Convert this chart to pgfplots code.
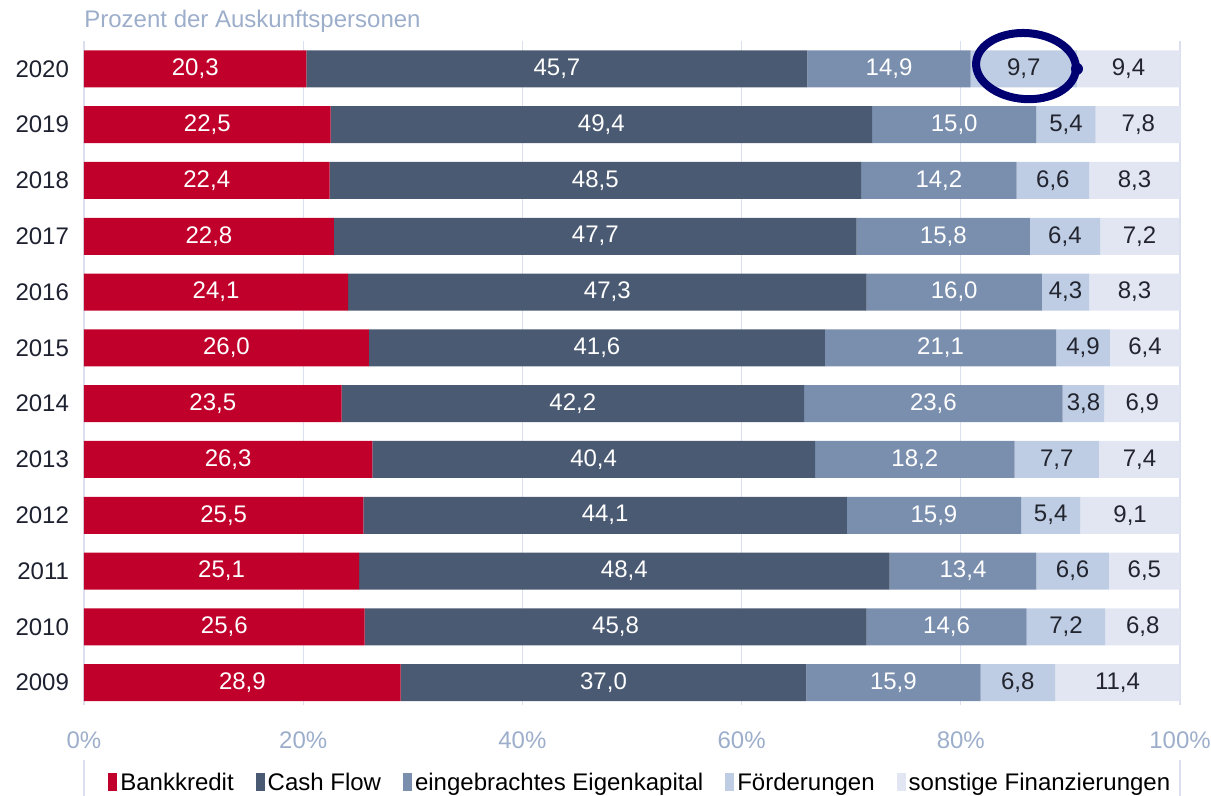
\documentclass[border=0pt]{standalone}
\usepackage{fontspec}
\setmainfont{Liberation Sans}
\usepackage{pgfplots}
\usepackage{pgfplotstable}
\pgfplotsset{compat=1.18}
\pgfkeys{/pgf/number format/assume math mode=true}
\definecolor{c1}{HTML}{C0002B}
\definecolor{c2}{HTML}{4A5A73}
\definecolor{c3}{HTML}{7A8EAE}
\definecolor{c4}{HTML}{BECDE3}
\definecolor{c5}{HTML}{E2E6F2}
\definecolor{gridc}{HTML}{DCE0EE}
\definecolor{tickc}{HTML}{9DAECB}
\definecolor{yearc}{HTML}{1E2230}
\definecolor{darklab}{HTML}{22252F}
\definecolor{navyc}{HTML}{000070}
\newcommand\lab{\fontsize{12}{14}\selectfont}

\pgfplotstableread{
y a b c d e
11 20.3 45.7 14.9 9.7 9.4
10 22.5 49.4 15.0 5.4 7.8
9 22.4 48.5 14.2 6.6 8.3
8 22.8 47.7 15.8 6.4 7.2
7 24.1 47.3 16.0 4.3 8.3
6 26.0 41.6 21.1 4.9 6.4
5 23.5 42.2 23.6 3.8 6.9
4 26.3 40.4 18.2 7.7 7.4
3 25.5 44.1 15.9 5.4 9.1
2 25.1 48.4 13.4 6.6 6.5
1 25.6 45.8 14.6 7.2 6.8
0 28.9 37.0 15.9 6.8 11.4
}\data
% label positions: centre of each segment
\pgfplotstablecreatecol[create col/expr={\thisrow{a}/2}]{ma}\data
\pgfplotstablecreatecol[create col/expr={\thisrow{a}+\thisrow{b}/2}]{mb}\data
\pgfplotstablecreatecol[create col/expr={\thisrow{a}+\thisrow{b}+\thisrow{c}/2}]{mc}\data
\pgfplotstablecreatecol[create col/expr={\thisrow{a}+\thisrow{b}+\thisrow{c}+\thisrow{d}/2}]{md}\data
\pgfplotstablecreatecol[create col/expr={\thisrow{a}+\thisrow{b}+\thisrow{c}+\thisrow{d}+\thisrow{e}/2}]{me}\data

\pgfplotsset{
  common/.style={x=5.48pt, y=27.9pt, xmin=0, xmax=100, ymin=-0.4, ymax=11.5, clip=false},
  lbl/.style={draw=none, mark=none, point meta=explicit,
    nodes near coords={\pgfmathprintnumber[fixed,fixed zerofill,precision=1,use comma,assume math mode=true]{\pgfplotspointmeta}},
    every node near coord/.style={anchor=center, text=#1, font=\lab, inner sep=0pt}},
}

\begin{document}
\begin{tikzpicture}
\begin{axis}[
  common,
  xbar stacked, bar width=18.5pt,
  axis line style={draw=none},
  major tick length=0pt,
  xmajorgrids, grid style={color=gridc, line width=0.6pt},
  xtick={0,20,40,60,80,100},
  xticklabels={0\%,20\%,40\%,60\%,80\%,100\%},
  ytick={0,1,2,3,4,5,6,7,8,9,10,11},
  yticklabels={2009,2010,2011,2012,2013,2014,2015,2016,2017,2018,2019,2020},
  xticklabel style={text=tickc, font=\lab, anchor=center, yshift=-17.5pt},
  yticklabel style={text=yearc, font=\lab, xshift=-4pt},
  title={Prozent der Auskunftspersonen},
  title style={at={(0,1)}, anchor=west, yshift=4pt, inner sep=0pt, text=tickc, font=\lab},
  legend columns=-1,
  legend style={at={(0.508,-0.1176)}, anchor=center, draw=none, fill=none, font=\lab,
    /tikz/every even column/.append style={column sep=9.5pt},
    nodes={inner sep=1.5pt}},
  legend image code/.code={\fill[#1, draw=none] (2.5pt,-4pt) rectangle (7pt,5pt);},
]
\addplot[fill=c1, draw=none] table[x=a, y=y]{\data};
\addplot[fill=c2, draw=none] table[x=b, y=y]{\data};
\addplot[fill=c3, draw=none] table[x=c, y=y]{\data};
\addplot[fill=c4, draw=none] table[x=d, y=y]{\data};
\addplot[fill=c5, draw=none] table[x=e, y=y]{\data};
\legend{Bankkredit, Cash Flow, eingebrachtes Eigenkapital, Förderungen, sonstige Finanzierungen}
\end{axis}
\begin{axis}[common, hide axis]
\addplot[lbl=white] table[x=ma, y=y, meta=a]{\data};
\addplot[lbl=white] table[x=mb, y=y, meta=b]{\data};
\addplot[lbl=white] table[x=mc, y=y, meta=c]{\data};
\addplot[lbl=darklab] table[x=md, y=y, meta=d]{\data};
\addplot[lbl=darklab] table[x=me, y=y, meta=e]{\data};
\draw[navyc, line width=4pt, rotate around={-4:(axis cs:85.95,11.05)}] (axis cs:85.95,11.05) ellipse [x radius=25pt, y radius=16.5pt];
\fill[navyc] (axis cs:90.6,11.0) circle [radius=3pt];
\end{axis}
\draw[gridc, line width=0.6pt] (0pt,-27.5pt) -- (0pt,-46pt);
\draw[gridc, line width=0.6pt] (548pt,-27.5pt) -- (548pt,-46pt);
\pgfresetboundingbox
\useasboundingbox (-42pt,-45.5pt) rectangle (563.5pt,352.5pt);
\end{tikzpicture}
\end{document}
